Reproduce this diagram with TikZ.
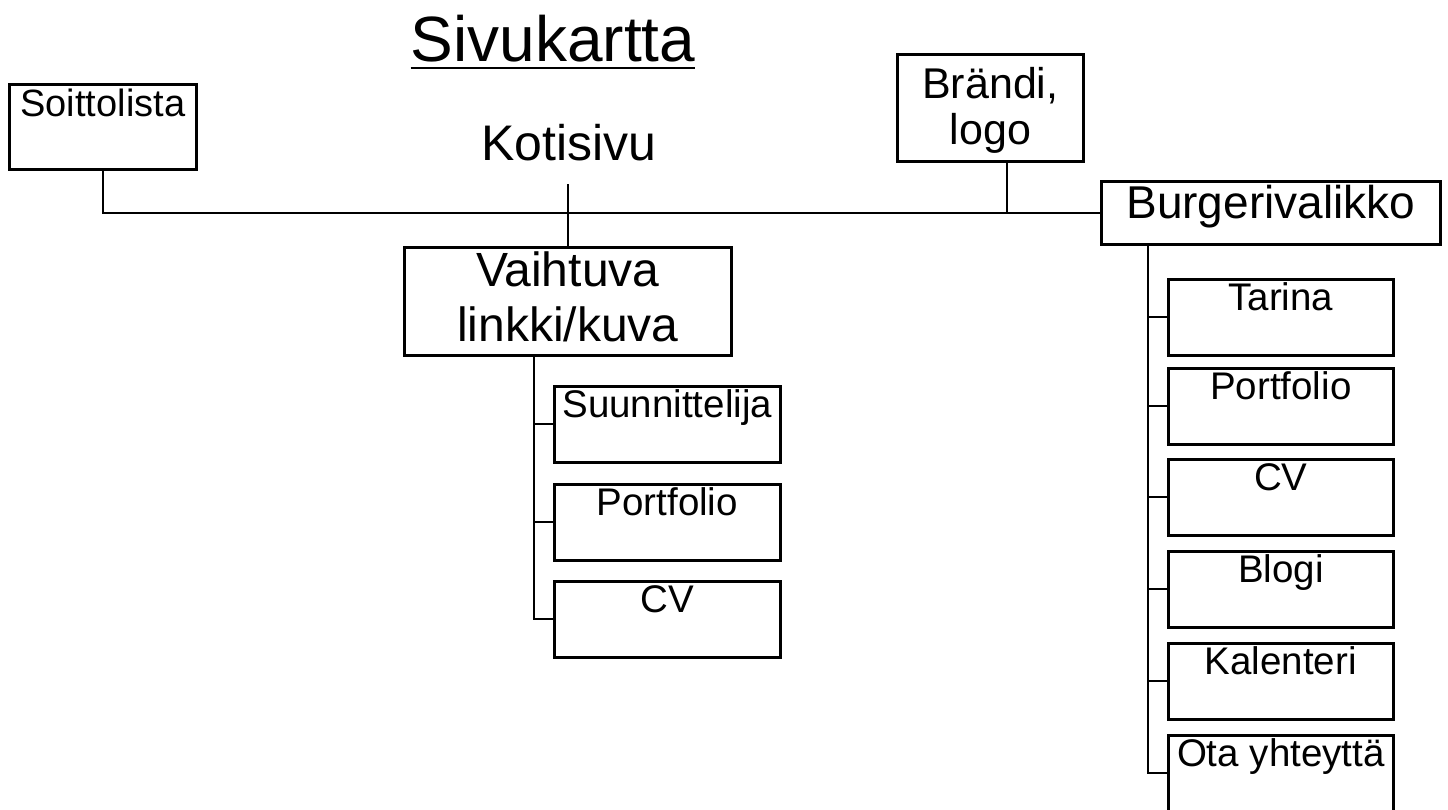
\documentclass[tikz,border=0pt]{standalone}
\usepackage{fontspec}
\setmainfont{Liberation Sans}
\begin{document}
\begin{tikzpicture}[x=1pt,y=-1pt,
  box/.style={draw, line width=2.6pt, rectangle, inner sep=0pt, anchor=north west},
  sbox/.style={box, minimum width=226pt, font=\fontsize{38.5}{42}\selectfont, text height=31pt, text depth=45pt},
  conn/.style={line width=2pt},
  plain/.style={anchor=base, inner sep=0pt}
]
\useasboundingbox[fill=white] (0,0) rectangle (1448,809);
% title
\node[plain, font=\fontsize{64}{70}\selectfont] (title) at (553,61) {Sivukartta};
\draw[line width=2.6pt] ([yshift=-7pt]title.base west) -- ([yshift=-7pt]title.base east);
% top level
\node[box, minimum width=187pt, inner xsep=6pt, font=\fontsize{38}{42}\selectfont, text height=32pt, text depth=53pt] (soitto) at (8,83) {Soittolista};
\node[plain, font=\fontsize{50}{55}\selectfont] (koti) at (569,160) {Kotisivu};
\node[box, minimum width=186pt, align=center, font=\fontsize{43}{46}\selectfont, text height=90pt, text depth=17pt] (brandi) at (896,53) {Brändi,\\logo};
\node[box, minimum width=339pt, font=\fontsize{46}{50}\selectfont, text height=37pt, text depth=26pt] (burger) at (1100,180) {Burgerivalikko};
\node[box, minimum width=327pt, align=center, font=\fontsize{48}{55}\selectfont, text height=94pt, text depth=14pt] (vaih) at (403,246) {Vaihtuva\\linkki/kuva};
% middle column
\node[sbox] (suun) at (553,385) {Suunnittelija};
\node[sbox] (port1) at (553,483) {Portfolio};
\node[sbox] (cv1) at (553,580) {CV};
% right column
\node[sbox, minimum width=225pt] (tarina) at (1167,278) {Tarina};
\node[sbox, minimum width=225pt] (port2) at (1167,367) {Portfolio};
\node[sbox, minimum width=225pt] (cv2) at (1167,458) {CV};
\node[sbox, minimum width=225pt] (blogi) at (1167,550) {Blogi};
\node[sbox, minimum width=225pt] (kal) at (1167,642) {Kalenteri};
\node[sbox, minimum width=225pt] (ota) at (1167,734) {Ota yhteyttä};
% connectors
\coordinate (kotiend) at (vaih.north |- 0,184);
\draw[conn] (kotiend) -- (vaih.north);
\draw[conn] (soitto.south) |- (burger.west);
\coordinate (bj) at ([xshift=17pt]brandi.south);
\draw[conn] (bj) -- (bj |- burger.west);
\coordinate (vt) at ([xshift=-33.5pt]vaih.south);
\draw[conn] (vt) |- (cv1.west);
\foreach \n in {suun,port1} \draw[conn] (\n.west) -- (\n.west -| vt);
\coordinate (bt) at ([xshift=-122.5pt]burger.south);
\draw[conn] (bt) |- (ota.west);
\foreach \n in {tarina,port2,cv2,blogi,kal} \draw[conn] (\n.west) -- (\n.west -| bt);
\end{tikzpicture}
\end{document}
